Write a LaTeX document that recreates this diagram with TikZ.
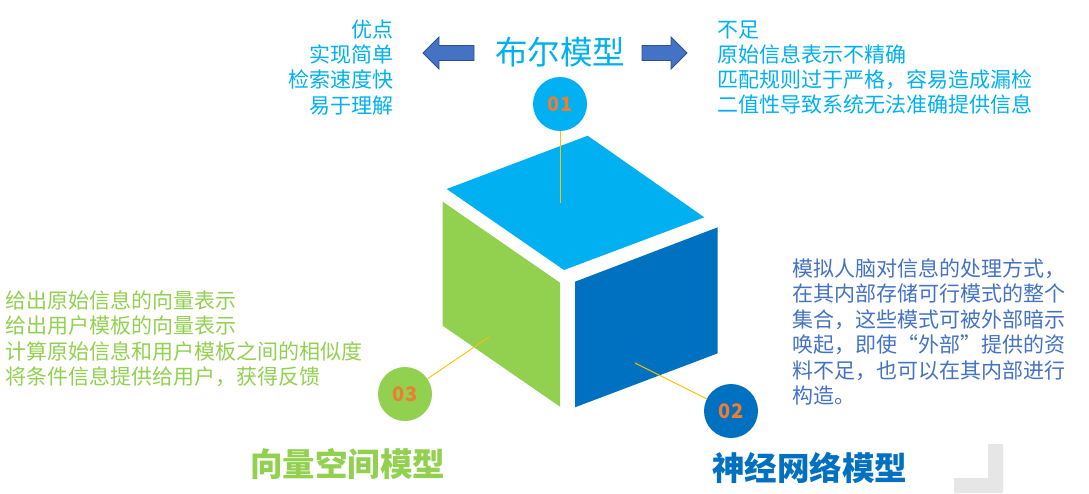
\documentclass[tikz,border=0pt]{standalone}
\usepackage{fontspec}
\newfontfamily\cjk{Noto Sans CJK SC}
\definecolor{cyanb}{HTML}{00B0F0}
\definecolor{greenb}{HTML}{92D050}
\definecolor{blueb}{HTML}{0070C0}
\definecolor{textblue}{HTML}{4472C4}
\definecolor{arrowfill}{HTML}{4472C4}
\definecolor{arrowline}{HTML}{2F528F}
\definecolor{numor}{HTML}{ED7D31}
\definecolor{gold}{HTML}{FFC000}
\definecolor{lightgray}{HTML}{E6E6E6}
\tikzset{
  txt/.style={inner sep=0pt, font=\cjk\fontsize{21}{25}\selectfont},
  ltxt/.style={txt, anchor=base west},
  rtxt/.style={txt, anchor=base east},
  title/.style={inner sep=0pt, font=\cjk\fontsize{32.5}{36}\selectfont},
  numcirc/.style={circle, minimum size=54pt, inner sep=0pt, text=numor, font=\cjk\bfseries\fontsize{20}{22}\selectfont},
  conn/.style={draw=gold, line width=0.9pt},
  bigarrow/.style={fill=arrowfill, draw=arrowline, line width=0.8pt}
}
\begin{document}
\begin{tikzpicture}[x=1pt,y=-1pt]
\useasboundingbox (0,0) rectangle (1089,493);
% cube faces
\fill[cyanb] (446.7,189) -- (587.7,135.7) -- (704.3,217.3) -- (564,270) -- cycle;
\fill[greenb] (442.7,201.7) -- (560,282.7) -- (560,406.7) -- (442.7,325.7) -- cycle;
\fill[blueb] (575,281.7) -- (717.7,227.3) -- (717.7,353.3) -- (575,407.3) -- cycle;
% gray corner
\fill[lightgray] (988,444) -- (1003,444) -- (1003,493) -- (954,493) -- (954,478) -- (988,478) -- cycle;
% arrows
\draw[bigarrow] (423,53) -- (439,37) -- (439,45.5) -- (474,45.5) -- (474,60.5) -- (439,60.5) -- (439,69) -- cycle;
\draw[bigarrow] (687,53) -- (671,37) -- (671,45.5) -- (642,45.5) -- (642,60.5) -- (671,60.5) -- (671,69) -- cycle;
% title
\node[title, text=cyanb] (t1) at (560,52) {布尔模型};
\node[title, text=greenb, font=\cjk\bfseries\fontsize{32.5}{36}\selectfont] (t3) at (347.5,463.5) {向量空间模型};
\node[title, text=blueb, font=\cjk\bfseries\fontsize{32.5}{36}\selectfont] (t2) at (809.5,468) {神经网络模型};
% circles
\node[numcirc, fill=cyanb] (c1) at (560,104) {01};
\node[numcirc, fill=blueb] (c2) at (731,411) {02};
\node[numcirc, fill=greenb] (c3) at (405,394) {03};
\coordinate (p1) at (560,203);
\coordinate (p2) at (635,363);
\coordinate (p3) at (489,337);
\draw[conn] (c1) -- (p1);
\draw[conn] (c2) -- (p2);
\draw[conn] (c3) -- (p3);
% left top text
\node[rtxt, text=cyanb] (l1) at (394,37) {优点};
\node[rtxt, text=cyanb] (l2) at (394,62) {实现简单};
\node[rtxt, text=cyanb] (l3) at (394,87.5) {检索速度快};
\node[rtxt, text=cyanb] (l4) at (394,113) {易于理解};
% right top text
\node[ltxt, text=cyanb] (r1) at (717,37) {不足};
\node[ltxt, text=cyanb] (r2) at (717,62) {原始信息表示不精确};
\node[ltxt, text=cyanb] (r3) at (717,87) {匹配规则过于严格，容易造成漏检};
\node[ltxt, text=cyanb] (r4) at (717,112) {二值性导致系统无法准确提供信息};
% green text
\node[ltxt, text=greenb] (g1) at (5,308) {给出原始信息的向量表示};
\node[ltxt, text=greenb] (g2) at (5,333) {给出用户模板的向量表示};
\node[ltxt, text=greenb] (g3) at (5,359) {计算原始信息和用户模板之间的相似度};
\node[ltxt, text=greenb] (g4) at (5,384) {将条件信息提供给用户，获得反馈};
% blue text
\node[ltxt, text=textblue] (b1) at (792,276) {模拟人脑对信息的处理方式，};
\node[ltxt, text=textblue] (b2) at (792,301.5) {在其内部存储可行模式的整个};
\node[ltxt, text=textblue] (b3) at (792,327) {集合，这些模式可被外部暗示};
\node[ltxt, text=textblue] (b4) at (792,352.5) {唤起，即使“外部”提供的资};
\node[ltxt, text=textblue] (b5) at (792,378) {料不足，也可以在其内部进行};
\node[ltxt, text=textblue] (b6) at (792,403.5) {构造。};
\end{tikzpicture}
\end{document}
